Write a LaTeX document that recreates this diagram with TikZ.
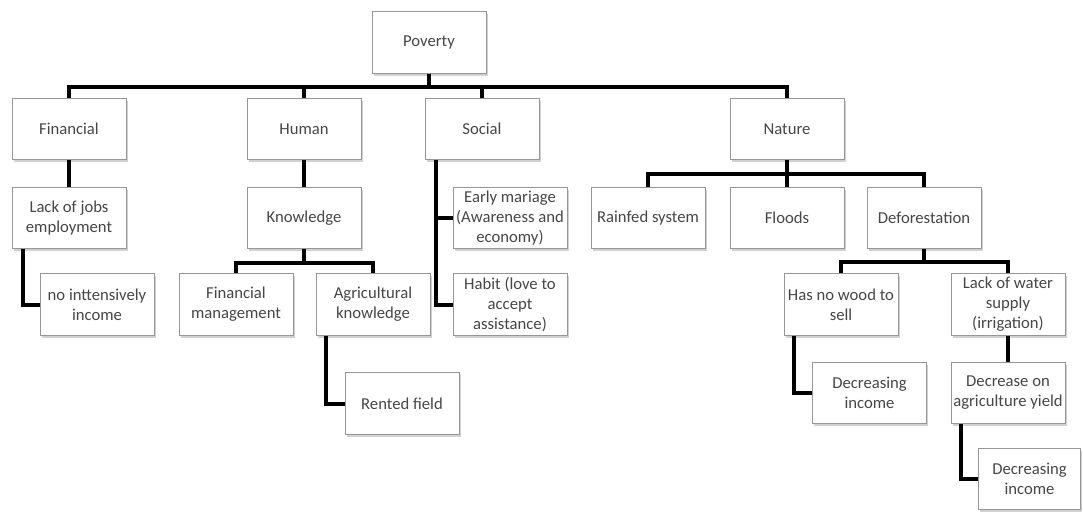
\documentclass[tikz,border=0pt]{standalone}
\usepackage{fontspec}
\setmainfont{Carlito}
\usepackage{xcolor}
\usetikzlibrary{shadows}
\definecolor{boxGray}{RGB}{150,150,150}
\definecolor{txtGray}{RGB}{70,70,70}

\begin{document}
\begin{tikzpicture}[x=0.75pt,y=-0.75pt,
    box/.style={draw=boxGray, line width=0.6pt, fill=white,
        minimum width=85.5pt, minimum height=46pt, inner sep=1pt,
        align=center, text=txtGray, font=\fontsize{12.5}{15}\selectfont,
        drop shadow={shadow xshift=1.2pt, shadow yshift=-1.8pt, fill=black!30, opacity=0.6}},
    link/.style={line width=3pt}]
    \useasboundingbox (0,0) rectangle (1083,512);

    % root and the four capitals
    \node[box] (pov) at (429,42.5) {Poverty};
    \node[box] (fin) at (69,129) {Financial};
    \node[box] (hum) at (304,129) {Human};
    \node[box] (soc) at (482,129) {Social};
    \node[box] (nat) at (787,129) {Nature};

    % second row
    \node[box] (lack) at (69,218) {Lack of jobs\\employment};
    \node[box] (know) at (304,218) {Knowledge};
    \node[box] (early) at (510,218) {Early mariage\\(Awareness and\\economy)};
    \node[box] (rain) at (648,218) {Rainfed system};
    \node[box] (flood) at (787,218) {Floods};
    \node[box] (defor) at (924,218) {Deforestation};

    % third row
    \node[box] (noint) at (97,304.5) {no inttensively\\income};
    \node[box] (fmg) at (236,304.5) {Financial\\management};
    \node[box] (agr) at (373,304.5) {Agricultural\\knowledge};
    \node[box] (habit) at (510,304.5) {Habit (love to\\accept\\assistance)};
    \node[box] (wood) at (841,304.5) {Has no wood to\\sell};
    \node[box] (water) at (1008,304.5) {Lack of water\\supply\\(irrigation)};

    % lower rows
    \node[box] (rent) at (402,403.5) {Rented field};
    \node[box] (dinc) at (869.5,393) {Decreasing\\income};
    \node[box] (decr) at (1008,393) {Decrease on\\agriculture yield};
    \node[box, minimum width=77pt] (dinc2) at (1029.5,479) {Decreasing\\income};

    % tree bars
    \foreach \c in {fin,hum,soc,nat}
        \draw[link] (pov.south) -- ++(0,13) -| (\c.north);
    \foreach \c in {fmg,agr}
        \draw[link] (know.south) -- ++(0,13.5) -| (\c.north);
    \foreach \c in {rain,flood,defor}
        \draw[link] (nat.south) -- ++(0,13.5) -| (\c.north);
    \foreach \c in {wood,water}
        \draw[link] (defor.south) -- ++(0,13) -| (\c.north);

    % straight links
    \draw[link] (fin.south) -- (lack.north);
    \draw[link] (hum.south) -- (know.north);
    \draw[link] (water.south) -- (decr.north);

    % elbow links
    \draw[link] ([xshift=8.25pt]lack.south west) |- (noint.west);
    \draw[link] ([xshift=8.25pt]soc.south west) |- (early.west);
    \draw[link] ([xshift=8.25pt]soc.south west) |- (habit.west);
    \draw[link] ([xshift=7.5pt]agr.south west) |- (rent.west);
    \draw[link] ([xshift=7.5pt]wood.south west) |- (dinc.west);
    \draw[link] ([xshift=7.5pt]decr.south west) |- (dinc2.west);
\end{tikzpicture}
\end{document}
